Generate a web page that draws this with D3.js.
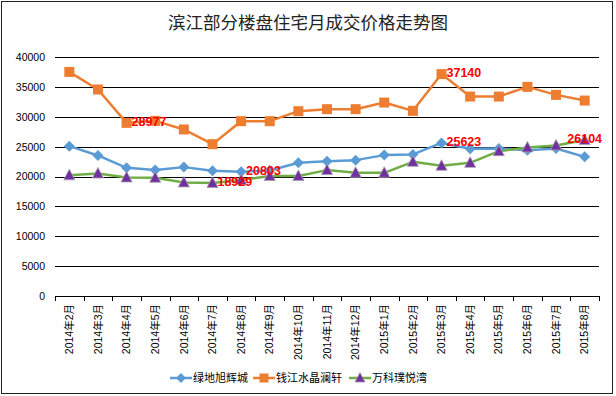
<!DOCTYPE html>
<html lang="zh">
  <head>
    <meta charset="UTF-8" />
    <title>滨江部分楼盘住宅月成交价格走势图</title>
    <style>
      body { margin: 0; background: #fff; }
      svg { display: block; }
    </style>
  </head>
  <body>
    <svg width="616" height="396"></svg>
    <script src="https://d3js.org/d3.v7.min.js"></script>
    <script>
      const months = [
        "2014年2月", "2014年3月", "2014年4月", "2014年5月", "2014年6月",
        "2014年7月", "2014年8月", "2014年9月", "2014年10月", "2014年11月",
        "2014年12月", "2015年1月", "2015年2月", "2015年3月", "2015年4月",
        "2015年5月", "2015年6月", "2015年7月", "2015年8月",
      ];
      const lvdi = [25080, 23520, 21450, 21070, 21570, 20950, 20803, 21000, 22290, 22570,
        22740, 23580, 23690, 25623, 24630, 24690, 24410, 24690, 23290];
      const qianjiang = [37500, 34560, 28977, 29310, 27870, 25410, 29260, 29260, 30930, 31270,
        31270, 32380, 30990, 37140, 33380, 33380, 35000, 33660, 32710];
      const vanke = [20200, 20500, 19840, 19790, 19010, 18929, 19400, 20100, 20100, 21070,
        20620, 20620, 22460, 21790, 22290, 24240, 24860, 25190, 26104];
      const yTicks = [0, 5000, 10000, 15000, 20000, 25000, 30000, 35000, 40000];

      const series = [
        { name: "绿地旭辉城", values: lvdi, line: "#5b9bd5", fill: "#5b9bd5", marker: "diamond" },
        { name: "钱江水晶澜轩", values: qianjiang, line: "#ed7d31", fill: "#ed7d31", marker: "square" },
        { name: "万科璞悦湾", values: vanke, line: "#70ad47", fill: "#7030a0", marker: "triangle" },
      ];
      // [series index, month index, placement]
      const callouts = [
        [1, 2, "right"], [0, 6, "right"], [2, 5, "right"],
        [1, 13, "right"], [0, 13, "right"], [2, 18, "center"],
      ];

      const svg = d3.select("svg");
      const plotLeft = 55, plotRight = 599, plotTop = 57, plotBottom = 296;

      svg.append("rect")
        .attr("x", 1.5).attr("y", 1.5)
        .attr("width", 611).attr("height", 392)
        .attr("fill", "#fff").attr("stroke", "#222");

      svg.append("text")
        .attr("x", 308).attr("y", 29)
        .attr("text-anchor", "middle")
        .attr("font-family", "'Noto Sans CJK SC', sans-serif")
        .attr("font-size", 17.5)
        .attr("fill", "#222")
        .text("滨江部分楼盘住宅月成交价格走势图");

      const x = d3.scaleBand().domain(months).range([plotLeft, plotRight]);
      const cx = (d) => x(d) + x.bandwidth() / 2;
      const y = d3.scaleLinear().domain([0, 40000]).range([plotBottom, plotTop]);

      // gridlines + y labels
      const yAxis = svg.append("g")
        .attr("transform", `translate(${plotLeft},0)`)
        .call(d3.axisLeft(y).tickValues(yTicks).tickSize(-(plotRight - plotLeft)).tickPadding(10).tickFormat(d3.format("d")));
      yAxis.select(".domain").remove();
      yAxis.selectAll("line").attr("stroke", "#000").attr("shape-rendering", "crispEdges");
      yAxis.selectAll("text")
        .attr("font-family", "'Liberation Sans', Arial, sans-serif")
        .attr("font-size", 10.5)
        .attr("fill", "#000");

      // x axis ticks at category boundaries
      const edges = months.map((m) => x(m)).concat([x(months[months.length - 1]) + x.bandwidth()]);
      svg.append("g").selectAll("line").data(edges).join("line")
        .attr("x1", (d) => Math.round(d) + 0.5).attr("x2", (d) => Math.round(d) + 0.5)
        .attr("y1", plotBottom).attr("y2", plotBottom + 5)
        .attr("stroke", "#000");

      svg.append("g").selectAll("text").data(months).join("text")
        .attr("transform", (d) => `translate(${cx(d)},${plotBottom + 8}) rotate(-90)`)
        .attr("text-anchor", "end")
        .attr("dy", "0.35em")
        .attr("font-family", "'Liberation Sans', 'Noto Sans CJK SC', sans-serif")
        .attr("font-size", 10.5)
        .attr("fill", "#000")
        .text((d) => d);

      const line = d3.line().x((d, i) => cx(months[i])).y((d) => y(d));

      function drawMarker(g, type, fill, size) {
        if (type === "diamond") {
          g.append("path")
            .attr("d", `M0,${-size * 0.55}L${size * 0.55},0L0,${size * 0.55}L${-size * 0.55},0Z`)
            .attr("fill", fill);
        } else if (type === "square") {
          g.append("rect").attr("x", -size / 2).attr("y", -size / 2)
            .attr("width", size).attr("height", size).attr("fill", fill);
        } else {
          const h = size;
          g.append("path")
            .attr("d", `M0,${-h * 0.6}L${h * 0.55},${h * 0.45}L${-h * 0.55},${h * 0.45}Z`)
            .attr("fill", fill).attr("stroke", "#a49aad").attr("stroke-width", 0.8);
        }
      }

      series.forEach((s) => {
        svg.append("path")
          .datum(s.values)
          .attr("fill", "none")
          .attr("stroke", s.line)
          .attr("stroke-width", 2.5)
          .attr("stroke-linejoin", "round")
          .attr("d", line);
      });
      series.forEach((s) => {
        s.values.forEach((v, i) => {
          const g = svg.append("g").attr("transform", `translate(${cx(months[i])},${y(v)})`);
          drawMarker(g, s.marker, s.fill, 10);
        });
      });

      // value callouts
      svg.append("g").selectAll("text").data(callouts).join("text")
        .attr("x", (d) => cx(months[d[1]]) + (d[2] === "right" ? 5 : 0))
        .attr("y", (d) => y(series[d[0]].values[d[1]]) - 1)
        .attr("dy", "0.35em")
        .attr("text-anchor", (d) => (d[2] === "right" ? "start" : "middle"))
        .attr("font-family", "'Liberation Sans', Arial, sans-serif")
        .attr("font-weight", "bold")
        .attr("font-size", 12.5)
        .attr("fill", "#ff0000")
        .text((d) => series[d[0]].values[d[1]]);

      // legend
      const legendX = [170, 253, 349];
      const legend = svg.append("g").selectAll("g").data(series).join("g")
        .attr("transform", (d, i) => `translate(${legendX[i]},378)`);
      legend.append("line").attr("x1", 0).attr("x2", 22).attr("stroke", (d) => d.line).attr("stroke-width", 2.5);
      legend.each(function (d) {
        const g = d3.select(this).append("g").attr("transform", "translate(11,0)");
        drawMarker(g, d.marker, d.fill, 9);
      });
      legend.append("text")
        .attr("x", 23).attr("dy", "0.35em")
        .attr("font-family", "'Noto Sans CJK SC', sans-serif")
        .attr("font-size", 11)
        .attr("fill", "#000")
        .text((d) => d.name);
    </script>
  </body>
</html>
